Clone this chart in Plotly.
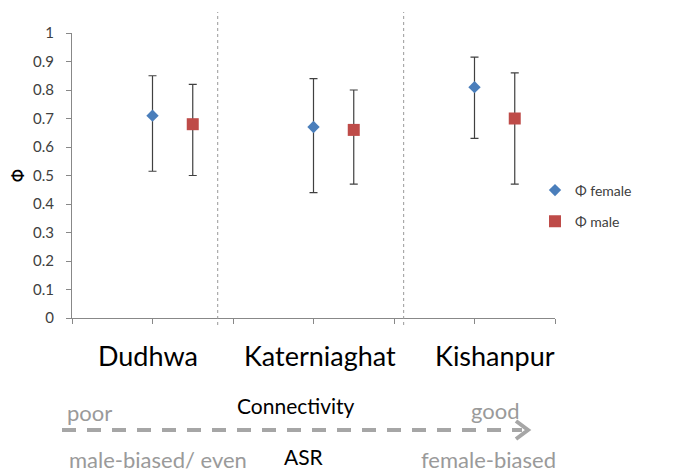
import plotly.graph_objects as go

sites = ["Dudhwa", "Katerniaghat", "Kishanpur"]
x_female = [1, 3, 5]
x_male = [1.5, 3.5, 5.5]
phi_female = [0.71, 0.67, 0.81]
phi_female_hi = [0.85, 0.84, 0.915]
phi_female_lo = [0.515, 0.44, 0.63]
phi_male = [0.68, 0.66, 0.70]
phi_male_hi = [0.82, 0.80, 0.86]
phi_male_lo = [0.50, 0.47, 0.47]
dividers = [1.81, 4.12]
yticks = [0, 0.1, 0.2, 0.3, 0.4, 0.5, 0.6, 0.7, 0.8, 0.9, 1]

OFF = 8  # page body margin
W, H = 667, 465
L, T = 72 - OFF, 33 - OFF
R = W - (555 - OFF)
B = H - (318 - OFF)
pw, ph = W - L - R, H - T - B

def px(x):
    return (x - OFF - L) / pw

def py(y):
    return (H - B - (y - OFF)) / ph

FONT = "Lato"
fig = go.Figure()
fig.add_trace(go.Scatter(
    x=x_female, y=phi_female, mode="markers", name="Φ female",
    marker=dict(symbol="diamond", size=9.5, color="#4A7EBB"),
    error_y=dict(type="data", symmetric=False,
                 array=[h - v for h, v in zip(phi_female_hi, phi_female)],
                 arrayminus=[v - l for v, l in zip(phi_female, phi_female_lo)],
                 color="#404040", thickness=1.2, width=4),
))
fig.add_trace(go.Scatter(
    x=x_male, y=phi_male, mode="markers", name="Φ male",
    marker=dict(symbol="square", size=12, color="#BE4B48"),
    error_y=dict(type="data", symmetric=False,
                 array=[h - v for h, v in zip(phi_male_hi, phi_male)],
                 arrayminus=[v - l for v, l in zip(phi_male, phi_male_lo)],
                 color="#404040", thickness=1.2, width=4),
))

shapes = []
for d in dividers:
    shapes.append(dict(type="line", xref="x", yref="paper", x0=d, x1=d,
                       y0=py(325), y1=py(12),
                       line=dict(color="#999999", width=1, dash="dot")))
# dashed arrow
shapes.append(dict(type="line", xref="paper", yref="paper",
                   x0=px(62), x1=px(522), y0=py(430), y1=py(430),
                   line=dict(color="#A6A6A6", width=4, dash="14px,11px")))
shapes.append(dict(type="path", xref="paper", yref="paper",
                   path=f"M {px(516)} {py(421)} L {px(528)} {py(430)} L {px(516)} {py(439)}",
                   line=dict(color="#A6A6A6", width=4)))

annotations = []
site_centers = [148, 320, 495]
for s, c in zip(sites, site_centers):
    annotations.append(dict(text=s, xref="paper", yref="paper", x=px(c), y=py(355),
                            showarrow=False, xanchor="center", yanchor="middle",
                            font=dict(size=27, color="#000000", family=FONT)))
gray = "#9A9A9A"
annotations += [
    dict(text="poor", x=px(65), y=py(412), xanchor="left", font=dict(size=22, color=gray, family=FONT)),
    dict(text="good", x=px(522), y=py(410), xanchor="right", font=dict(size=22, color=gray, family=FONT)),
    dict(text="Connectivity", x=px(296), y=py(405), xanchor="center", font=dict(size=21, color="#000000", family=FONT)),
    dict(text="male-biased/ even", x=px(67), y=py(459), xanchor="left", font=dict(size=22, color=gray, family=FONT)),
    dict(text="ASR", x=px(304), y=py(456), xanchor="center", font=dict(size=21, color="#000000", family=FONT)),
    dict(text="female-biased", x=px(558), y=py(459), xanchor="right", font=dict(size=22, color=gray, family=FONT)),
]
for a in annotations[3:]:
    a.update(xref="paper", yref="paper", showarrow=False, yanchor="middle")

fig.update_layout(
    width=W, height=H, margin=dict(l=L, r=R, t=T, b=B, autoexpand=False),
    plot_bgcolor="white", paper_bgcolor="white",
    font=dict(family=FONT, color="#404040"),
    shapes=shapes, annotations=annotations,
    showlegend=True,
    legend=dict(x=px(535), xanchor="left", y=py(206), yanchor="middle",
                font=dict(size=14, color="#404040", family=FONT),
                tracegroupgap=10, itemwidth=30, bgcolor="rgba(0,0,0,0)",
                traceorder="grouped"),
    xaxis=dict(range=[0, 6], tickvals=[0, 1, 2, 3, 4, 5, 6], showticklabels=False,
               ticks="outside", ticklen=5, tickcolor="#888888", showgrid=False,
               zeroline=False, showline=True, linecolor="#888888", linewidth=1),
    yaxis=dict(range=[0, 1], tickvals=yticks, ticktext=[f"{v:g}" for v in yticks],
               ticks="outside", ticklen=5, tickcolor="#888888", showgrid=False,
               zeroline=False, showline=True, linecolor="#888888", linewidth=1,
               ticklabelstandoff=9,
               tickfont=dict(size=15, color="#404040", family=FONT),
               title=dict(text="<b>Φ</b>", font=dict(size=15, color="#000000", family=FONT), standoff=10)),
)
fig.data[0].legendgroup = "f"
fig.data[1].legendgroup = "m"

fig.write_html("out.html")
